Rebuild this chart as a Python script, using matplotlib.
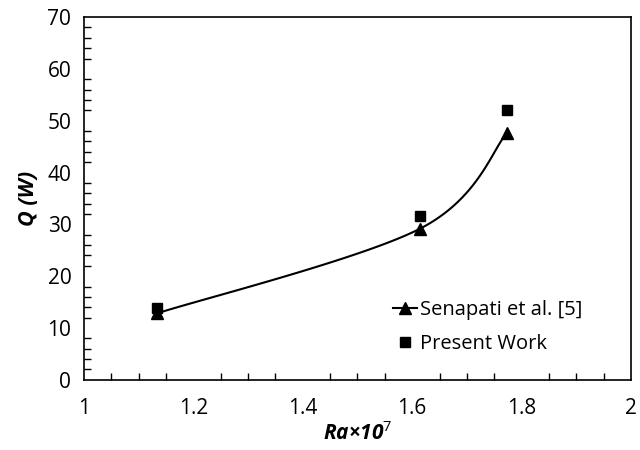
import numpy as np
import matplotlib
matplotlib.use('Agg')
import matplotlib.pyplot as plt

# data
ra = [1.133, 1.615, 1.773]
q_senapati = [12.8, 29.2, 47.6]
q_present = [13.8, 31.6, 52.0]

plt.rcParams['font.family'] = ['Open Sans', 'DejaVu Sans']
plt.rcParams['mathtext.fontset'] = 'custom'
plt.rcParams['mathtext.rm'] = 'Open Sans'
plt.rcParams['mathtext.it'] = 'Open Sans:italic:bold'
plt.rcParams['mathtext.bf'] = 'Open Sans:bold'

def smooth(xs, ys, n=60):
    # excel-like smoothed line: cubic bezier, control pts from neighbours
    xs = np.asarray(xs, float)
    ys = np.asarray(ys, float)
    px, py = [], []
    m = len(xs)
    for i in range(m - 1):
        x0, y0 = xs[max(i - 1, 0)], ys[max(i - 1, 0)]
        x1, y1 = xs[i], ys[i]
        x2, y2 = xs[i + 1], ys[i + 1]
        x3, y3 = xs[min(i + 2, m - 1)], ys[min(i + 2, m - 1)]
        c1x, c1y = x1 + (x2 - x0) / 6, y1 + (y2 - y0) / 6
        c2x, c2y = x2 - (x3 - x1) / 6, y2 - (y3 - y1) / 6
        t = np.linspace(0, 1, n)
        bx = (1-t)**3*x1 + 3*(1-t)**2*t*c1x + 3*(1-t)*t**2*c2x + t**3*x2
        by = (1-t)**3*y1 + 3*(1-t)**2*t*c1y + 3*(1-t)*t**2*c2y + t**3*y2
        px.extend(bx)
        py.extend(by)
    return px, py

fig = plt.figure(figsize=(6.4, 4.5), dpi=100)
ax = fig.add_axes([0.131, 0.156, 0.855, 0.806])

sx, sy = smooth(ra, q_senapati)
ax.plot(sx, sy, color='black', linewidth=1.5)
ax.plot(ra, q_senapati, linestyle='None', marker='^', markersize=9, color='black')
ax.plot(ra, q_present, linestyle='None', marker='s', markersize=7.5, color='black')

# legend handles
ax.plot([], [], color='black', marker='^', markersize=9, linewidth=1.5, label='Senapati et al. [5]')
ax.plot([], [], color='black', marker='s', markersize=7.5, linestyle='None', label='Present Work')
ax.legend(loc='lower right', bbox_to_anchor=(0.945, 0.02), frameon=False, fontsize=14.5,
          handlelength=1.2, handletextpad=0.15, labelspacing=0.7)

ax.set_xlim(1, 2)
ax.set_ylim(0, 70)
ax.set_xticks(np.arange(1, 2.01, 0.2))
ax.set_xticklabels(['1', '1.2', '1.4', '1.6', '1.8', '2'])
ax.set_yticks(np.arange(0, 71, 10))
ax.set_xticks(np.arange(1, 2.001, 0.05), minor=True)
ax.set_yticks(np.arange(0, 70.1, 2), minor=True)
ax.tick_params(which='major', direction='in', length=0, labelsize=15)
ax.tick_params(axis='x', which='major', pad=13)
ax.tick_params(axis='y', which='major', pad=9)
ax.tick_params(which='minor', direction='in', length=5, width=1)
for s in ax.spines.values():
    s.set_linewidth(1.2)

ax.set_xlabel(r'Ra×10$^{\mathrm{7}}$', fontsize=15, fontweight='bold', fontstyle='italic', labelpad=2)
ax.set_ylabel('Q (W)', fontsize=15.5, fontweight='bold', fontstyle='italic', labelpad=6)

fig.savefig('out.png', dpi=100)
